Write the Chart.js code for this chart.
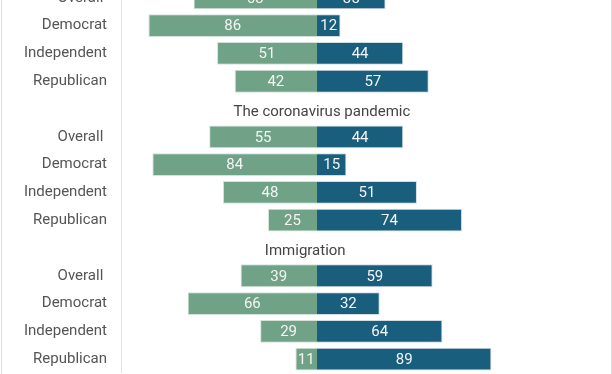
<!DOCTYPE html>
<html>
<head>
<meta charset="utf-8">
<script src="https://cdn.jsdelivr.net/npm/chart.js@4"></script>
<style>
  html, body { margin: 0; padding: 0; background: #fff; }
  #frame {
    position: absolute; left: 1px; top: 0; width: 609px; height: 374px;
    border-left: 1px solid #dedede; border-right: 1px solid #dedede;
    overflow: hidden;
  }
  #box { position: absolute; left: 0; top: -16px; width: 609px; height: 389px; }
</style>
</head>
<body>
<div id="frame"><div id="box"><canvas id="chart"></canvas></div></div>
<script>
// rows: group rows, with an empty row where a section title sits
const categories = [
  'Overall ', 'Democrat', 'Independent', 'Republican', '',
  'Overall ', 'Democrat', 'Independent', 'Republican', '',
  'Overall ', 'Democrat', 'Independent', 'Republican'
];
const greenValues = [63, 86, 51, 42, null, 55, 84, 48, 25, null, 39, 66, 29, 11];
const blueValues  = [35, 12, 44, 57, null, 44, 15, 51, 74, null, 59, 32, 64, 89];
const sectionTitles = ['The coronavirus pandemic', 'Immigration'];

document.addEventListener('DOMContentLoaded', function() {
  const ctx = document.getElementById('chart').getContext('2d');
  const font = 'Roboto, "Noto Sans", sans-serif';

  // value in the middle of every bar
  const valueLabels = {
    id: 'valueLabels',
    afterDatasetsDraw(chart) {
      const c = chart.ctx;
      c.save();
      c.font = '15px ' + font;
      c.fillStyle = '#f4f4f4';
      c.textAlign = 'center';
      c.textBaseline = 'middle';
      chart.data.datasets.forEach(function(ds, di) {
        chart.getDatasetMeta(di).data.forEach(function(bar, i) {
          const v = ds.data[i];
          if (v === null) return;
          c.fillText(String(Math.abs(v)), (bar.x + bar.base) / 2, bar.y + 1);
        });
      });
      c.restore();
    }
  };

  // section titles on the empty rows
  const titleOffsets = [2.5, -6];
  const sectionHeads = {
    id: 'sectionHeads',
    afterDatasetsDraw(chart) {
      const c = chart.ctx;
      const xs = chart.scales.x, ys = chart.scales.y;
      const rows = [];
      categories.forEach(function(l, i) { if (l === '') rows.push(i); });
      c.save();
      c.font = '15px ' + font;
      c.fillStyle = '#444';
      c.textAlign = 'center';
      c.textBaseline = 'middle';
      rows.forEach(function(r, k) {
        c.fillText(sectionTitles[k], xs.getPixelForValue(titleOffsets[k]), ys.getPixelForValue(r) + 3.5);
      });
      c.restore();
    }
  };

  new Chart(ctx, {
    type: 'bar',
    data: {
      labels: categories,
      datasets: [{
        label: 'green',
        data: greenValues.map(function(v) { return v === null ? null : -v; }),
        backgroundColor: '#6fa287',
        borderColor: '#d3e3da',
        borderWidth: 1,
        barPercentage: 0.82,
        categoryPercentage: 1
      }, {
        label: 'blue',
        data: blueValues,
        backgroundColor: '#1a5e7e',
        borderColor: '#cfdde6',
        borderWidth: 1,
        barPercentage: 0.82,
        categoryPercentage: 1
      }]
    },
    options: {
      indexAxis: 'y',
      responsive: true,
      maintainAspectRatio: false,
      animation: false,
      layout: { padding: 0 },
      scales: {
        x: {
          stacked: true,
          display: false,
          min: -100,
          max: 150
        },
        y: {
          stacked: true,
          grid: { display: false, drawTicks: false },
          border: { display: true, color: '#e4e4e4' },
          ticks: {
            color: '#555',
            padding: 14,
            font: { family: font, size: 15 }
          },
          afterFit: function(scale) {
            scale.width = 119;
            scale.paddingTop = 0;
            scale.paddingBottom = 0;
          }
        }
      },
      plugins: {
        legend: { display: false },
        tooltip: { enabled: false }
      }
    },
    plugins: [valueLabels, sectionHeads]
  });
});
</script>
</body>
</html>
